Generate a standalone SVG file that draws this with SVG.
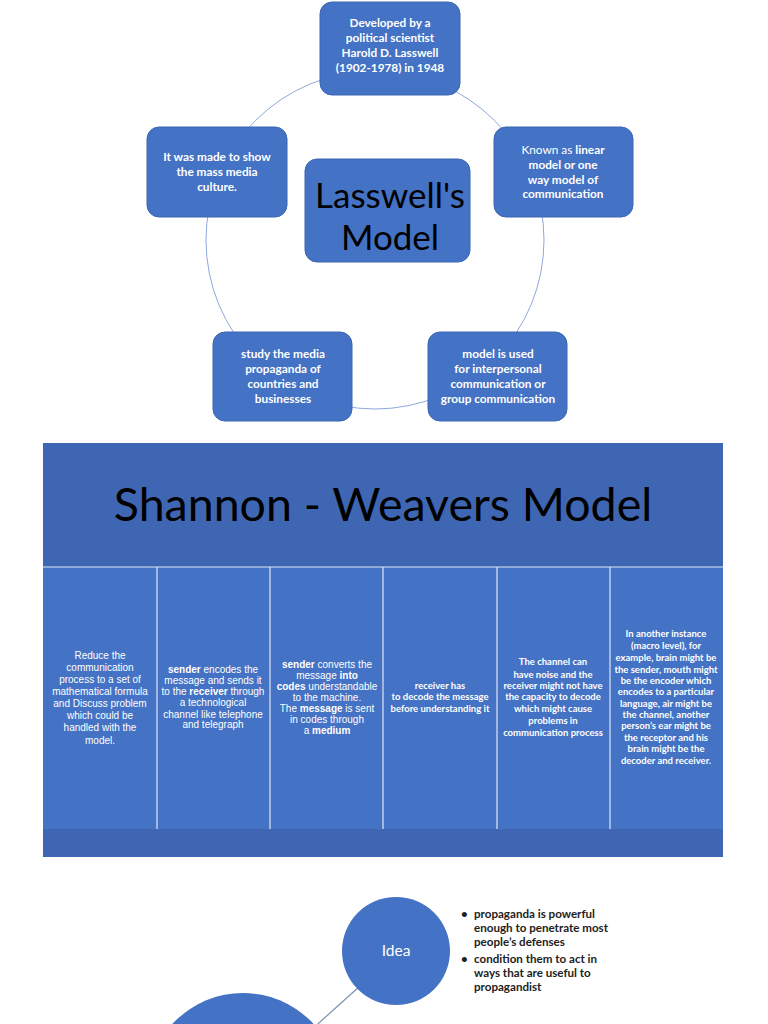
<svg xmlns="http://www.w3.org/2000/svg" width="768" height="1024" viewBox="0 0 768 1024">
<style>
.node{fill:#4472c4;stroke:#3b66b3;stroke-width:1}
.nt{font-family:Lato,"Open Sans",sans-serif;font-weight:bold;font-size:11.8px;fill:#fff;text-anchor:middle}
.nr{font-weight:normal}
.big{font-family:Lato,"Open Sans",sans-serif;fill:#000;text-anchor:middle}
.ct{font-family:"Liberation Sans",Arial,sans-serif;font-size:10px;fill:#fff;text-anchor:middle}
.cb{font-family:Lato,"Open Sans",sans-serif;font-weight:bold;font-size:9.5px;fill:#fff;text-anchor:middle}
.col{fill:#4472c4}
.dark{fill:#3f66b2}
.sep{stroke:#dfe6f5;stroke-width:1.2}
.bl{font-family:Lato,"Open Sans",sans-serif;font-weight:bold;font-size:11.6px;fill:#222}
</style>
<rect width="768" height="1024" fill="#fff"/>
<g id="connectors">
<circle cx="375" cy="240" r="169" fill="none" stroke="#8fa9dc" stroke-width="1"/>
<line x1="300" y1="1040" x2="360" y2="986" stroke="#7f8fb0" stroke-width="1.2"/>
</g>
<g id="node-top">
<rect class="node" x="320" y="2" width="140" height="93" rx="12"/>
<text class="nt" x="390" y="27">Developed by a</text>
<text class="nt" x="390" y="42">political scientist</text>
<text class="nt" x="390" y="57">Harold D. Lasswell</text>
<text class="nt" x="390" y="72">(1902-1978) in 1948</text>
</g>
<g id="node-left">
<rect class="node" x="147" y="127" width="140" height="90" rx="12"/>
<text class="nt" x="217" y="161">It was made to show</text>
<text class="nt" x="217" y="176">the mass media</text>
<text class="nt" x="217" y="191">culture.</text>
</g>
<g id="node-right">
<rect class="node" x="494" y="127" width="139" height="90" rx="12"/>
<text class="nt" x="563" y="154"><tspan class="nr">Known as </tspan>linear</text>
<text class="nt" x="563" y="169">model or one</text>
<text class="nt" x="563" y="184">way model of</text>
<text class="nt" x="563" y="198">communication</text>
</g>
<g id="node-center">
<rect class="node" x="305" y="159" width="165" height="103" rx="12"/>
<text class="big" x="390" y="208" font-size="35">Lasswell's</text>
<text class="big" x="390" y="250" font-size="35">Model</text>
</g>
<g id="node-bottom-left">
<rect class="node" x="213" y="332" width="139" height="89" rx="12"/>
<text class="nt" x="283" y="358">study the media</text>
<text class="nt" x="283" y="373">propaganda of</text>
<text class="nt" x="283" y="388">countries and</text>
<text class="nt" x="283" y="403">businesses</text>
</g>
<g id="node-bottom-right">
<rect class="node" x="428" y="332" width="139" height="89" rx="12"/>
<text class="nt" x="498" y="358">model is used</text>
<text class="nt" x="498" y="373">for interpersonal</text>
<text class="nt" x="498" y="388">communication or</text>
<text class="nt" x="498" y="403">group communication</text>
</g>
<g id="shannon-table">
<rect class="dark" x="43" y="443" width="680" height="124"/>
<text class="big" x="383" y="521" font-size="46.5">Shannon - Weavers Model</text>
<rect class="col" x="43" y="567" width="680" height="262"/>
<rect class="dark" x="43" y="829" width="680" height="28"/>
<line class="sep" x1="43" y1="567" x2="723" y2="567"/>
<line class="sep" x1="157" y1="567" x2="157" y2="829"/>
<line class="sep" x1="270" y1="567" x2="270" y2="829"/>
<line class="sep" x1="383" y1="567" x2="383" y2="829"/>
<line class="sep" x1="497" y1="567" x2="497" y2="829"/>
<line class="sep" x1="610" y1="567" x2="610" y2="829"/>
</g>
<g id="col1">
<text class="ct" x="100" y="659">Reduce the</text>
<text class="ct" x="100" y="671">communication</text>
<text class="ct" x="100" y="683">process to a set of</text>
<text class="ct" x="100" y="695">mathematical formula</text>
<text class="ct" x="100" y="707">and Discuss problem</text>
<text class="ct" x="100" y="719">which could be</text>
<text class="ct" x="100" y="731">handled with the</text>
<text class="ct" x="100" y="744">model.</text>
</g>
<g id="col2">
<text class="ct" x="213" y="673"><tspan font-weight="bold">sender</tspan> encodes the</text>
<text class="ct" x="213" y="684">message and sends it</text>
<text class="ct" x="213" y="695">to the <tspan font-weight="bold">receiver</tspan> through</text>
<text class="ct" x="213" y="706">a technological</text>
<text class="ct" x="213" y="718">channel like telephone</text>
<text class="ct" x="213" y="728">and telegraph</text>
</g>
<g id="col3">
<text class="ct" x="327" y="668"><tspan font-weight="bold">sender</tspan> converts the</text>
<text class="ct" x="327" y="679">message <tspan font-weight="bold">into</tspan></text>
<text class="ct" x="327" y="690"><tspan font-weight="bold">codes</tspan> understandable</text>
<text class="ct" x="327" y="701">to the machine.</text>
<text class="ct" x="327" y="712">The <tspan font-weight="bold">message</tspan> is sent</text>
<text class="ct" x="327" y="723">in codes through</text>
<text class="ct" x="327" y="734">a <tspan font-weight="bold">medium</tspan></text>
</g>
<g id="col4">
<text class="cb" x="440" y="689">receiver has</text>
<text class="cb" x="440" y="700">to decode the message</text>
<text class="cb" x="440" y="712">before understanding it</text>
</g>
<g id="col5">
<text class="cb" x="553" y="665">The channel can</text>
<text class="cb" x="553" y="678">have noise and the</text>
<text class="cb" x="553" y="689">receiver might not have</text>
<text class="cb" x="553" y="700">the capacity to decode</text>
<text class="cb" x="553" y="712">which might cause</text>
<text class="cb" x="553" y="724">problems in</text>
<text class="cb" x="553" y="736">communication process</text>
</g>
<g id="col6">
<text class="cb" x="666" y="637">In another instance</text>
<text class="cb" x="666" y="649">(macro level), for</text>
<text class="cb" x="666" y="661">example, brain might be</text>
<text class="cb" x="666" y="673">the sender, mouth might</text>
<text class="cb" x="666" y="684">be the encoder which</text>
<text class="cb" x="666" y="695">encodes to a particular</text>
<text class="cb" x="666" y="707">language, air might be</text>
<text class="cb" x="666" y="718">the channel, another</text>
<text class="cb" x="666" y="729">person’s ear might be</text>
<text class="cb" x="666" y="741">the receptor and his</text>
<text class="cb" x="666" y="752">brain might be the</text>
<text class="cb" x="666" y="764">decoder and receiver.</text>
</g>
<g id="node-idea">
<circle cx="396" cy="951" r="54" fill="#4472c4"/>
<text x="396" y="956" font-family="Lato,'Open Sans',sans-serif" font-size="15.5" fill="#fff" text-anchor="middle">Idea</text>
</g>
<g id="node-big">
<circle cx="243" cy="1089" r="96" fill="#4472c4"/>
</g>
<g id="idea-notes">
<text class="bl" x="461" y="918">•</text>
<text class="bl" x="474" y="918">propaganda is powerful</text>
<text class="bl" x="474" y="932">enough to penetrate most</text>
<text class="bl" x="474" y="946">people’s defenses</text>
<text class="bl" x="461" y="963">•</text>
<text class="bl" x="474" y="963">condition them to act in</text>
<text class="bl" x="474" y="977">ways that are useful to</text>
<text class="bl" x="474" y="991">propagandist</text>
</g>
</svg>
